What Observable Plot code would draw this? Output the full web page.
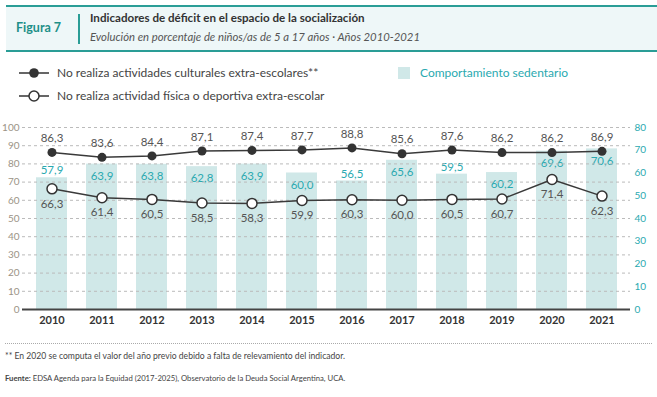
<!DOCTYPE html>
<html>
<head>
<meta charset="utf-8">
<script src="https://cdn.jsdelivr.net/npm/d3@7"></script>
<script src="https://cdn.jsdelivr.net/npm/@observablehq/plot@0.6"></script>
<style>
  html, body { margin: 0; padding: 0; background: #fff; }
  body { width: 657px; height: 397px; position: relative; overflow: hidden; font-family: Lato, "Open Sans", sans-serif; }
  .hdr { position: absolute; left: 6px; top: 5px; width: 651px; height: 43px; background: #eef7f8; border-top: 2px solid #2a9d96; border-bottom: 2px solid #2a9d96; }
  .fig { position: absolute; left: 10px; top: 13px; font-weight: 700; font-size: 12.5px; color: #1e9088; }
  .div { position: absolute; left: 72px; top: 7px; width: 1.5px; height: 30px; background: #2a9d96; }
  .ttl { position: absolute; left: 84px; top: 4px; font-weight: 700; font-size: 11.6px; color: #333; }
  .sub { position: absolute; left: 84px; top: 23px; font-style: italic; font-size: 11.3px; color: #555; }
  .leg { position: absolute; font-size: 12px; color: #444; white-space: nowrap; }
  .chart { position: absolute; left: 0; top: 112px; }
  .foot { position: absolute; left: 5px; color: #444; white-space: nowrap; }
  .dots { position: absolute; left: 5px; top: 343px; width: 647px; border-top: 1px dotted #aaa; }
</style>
</head>
<body>
<div class="hdr">
  <div class="fig">Figura 7</div>
  <div class="div"></div>
  <div class="ttl">Indicadores de déficit en el espacio de la socialización</div>
  <div class="sub">Evolución en porcentaje de niños/as de 5 a 17 años · Años 2010-2021</div>
</div>

<svg class="leg" style="left:17px;top:66px" width="34" height="40">
  <line x1="2" x2="32" y1="7" y2="7" stroke="#333" stroke-width="1.5"/>
  <circle cx="17" cy="7" r="4.8" fill="#333"/>
  <line x1="2" x2="32" y1="30" y2="30" stroke="#333" stroke-width="1.5"/>
  <circle cx="17" cy="30" r="5" fill="#fff" stroke="#333" stroke-width="1.5"/>
</svg>
<div class="leg" style="left:57px;top:65px">No realiza actividades culturales extra-escolares**</div>
<div class="leg" style="left:57px;top:88px">No realiza actividad física o deportiva extra-escolar</div>
<div class="leg" style="left:398px;top:67px;width:12px;height:12px;background:#d0e8e8"></div>
<div class="leg" style="left:420px;top:65px;color:#2aa9b0">Comportamiento sedentario</div>

<div id="bars" class="chart"></div>
<div id="lines" class="chart"></div>

<div class="dots"></div>
<div class="foot" style="top:351px;font-size:8.6px">** En 2020 se computa el valor del año previo debido a falta de relevamiento del indicador.</div>
<div class="foot" style="top:373px;font-size:7.7px"><b>Fuente:</b> EDSA Agenda para la Equidad (2017-2025), Observatorio de la Deuda Social Argentina, UCA.</div>

<script>
const years = ["2010","2011","2012","2013","2014","2015","2016","2017","2018","2019","2020","2021"];
const cultural = [86.3, 83.6, 84.4, 87.1, 87.4, 87.7, 88.8, 85.6, 87.6, 86.2, 86.2, 86.9];
const fisica = [66.3, 61.4, 60.5, 58.5, 58.3, 59.9, 60.3, 60.0, 60.5, 60.7, 71.4, 62.3];
const sedentario = [57.9, 63.9, 63.8, 62.8, 63.9, 60.0, 56.5, 65.6, 59.5, 60.2, 69.6, 70.6];
const leftTicks = [0,10,20,30,40,50,60,70,80,90,100];
const rightTicks = [0,10,20,30,40,50,60,70,80];

const fmt = v => v.toFixed(1).replace(".", ",");
const cult = years.map((y, i) => ({year: y, v: cultural[i]}));
const fis = years.map((y, i) => ({year: y, v: fisica[i]}));
const sed = years.map((y, i) => ({year: y, v: sedentario[i]}));

const W = 657, H = 220;
const common = {
  width: W, height: H,
  marginTop: 15, marginBottom: 23, marginLeft: 22, marginRight: 27,
  style: {fontFamily: "Lato, 'Open Sans', sans-serif", background: "transparent", overflow: "visible"},
  x: {type: "band", domain: years, paddingInner: 0.39, paddingOuter: 0.18, axis: null}
};

const teal = "#2aa9b0";
const bars = Plot.plot({
  ...common,
  y: {domain: [0, 80], axis: null},
  marks: [
    Plot.barY(sed, {x: "year", y: "v", fill: "#d0e8e8"}),
    Plot.axisY({anchor: "right", ticks: rightTicks, tickSize: 0, tickPadding: 4, fontSize: 10, color: teal, label: null}),
    Plot.text(sed.filter(d => d.v < 59.8), {x: "year", y: "v", text: d => fmt(d.v), dy: -7, fill: teal, fontSize: 11.5}),
    Plot.text(sed.filter(d => d.v >= 59.8), {x: "year", y: "v", text: d => fmt(d.v), dy: 12, fill: teal, fontSize: 11.5})
  ]
});
document.getElementById("bars").appendChild(bars);

const lines = Plot.plot({
  ...common,
  y: {domain: [0, 100], axis: null},
  marks: [
    Plot.gridY(leftTicks.slice(1), {stroke: "#bbb", strokeOpacity: 1, strokeDasharray: "3,3"}),
    Plot.axisY({anchor: "left", ticks: leftTicks, tickSize: 0, tickPadding: 3, fontSize: 10, color: "#9b9386", label: null}),
    Plot.axisX({tickSize: 0, tickPadding: 7, fontSize: 11, fontWeight: 700, color: "#333", label: null}),
    Plot.ruleY([0], {stroke: "#444", strokeWidth: 2}),
    Plot.line(cult, {x: "year", y: "v", stroke: "#3a3a3a", strokeWidth: 1.5}),
    Plot.line(fis, {x: "year", y: "v", stroke: "#3a3a3a", strokeWidth: 1.5}),
    Plot.dot(cult, {x: "year", y: "v", r: 4.5, fill: "#333"}),
    Plot.dot(fis, {x: "year", y: "v", r: 5, fill: "#fff", stroke: "#333", strokeWidth: 1.5}),
    Plot.text(cult, {x: "year", y: "v", text: d => fmt(d.v), dy: -14, fill: "#555", fontSize: 11.5}),
    Plot.text(fis, {x: "year", y: "v", text: d => fmt(d.v), dy: 15, fill: "#555", fontSize: 11.5})
  ]
});
document.getElementById("lines").appendChild(lines);
</script>
</body>
</html>
